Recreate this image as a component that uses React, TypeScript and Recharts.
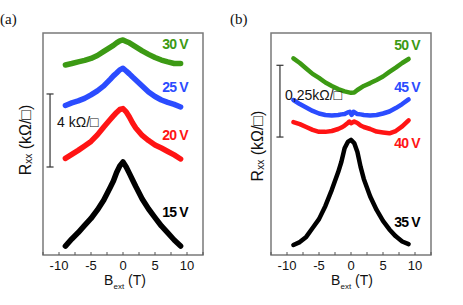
import React from "react";
import { LineChart, Line, XAxis, YAxis, ReferenceArea, ReferenceLine } from "recharts";

// ---------- data ----------
const fieldA = [-9, -8, -7, -6, -5, -4, -3, -2, -1.5, -1, -0.5, 0, 0.5, 1, 1.5, 2, 3, 4, 5, 6, 7, 8, 9];
const a15V = [0.49, 0.88, 1.23, 1.62, 2.0, 2.47, 3.01, 3.7, 4.05, 4.52, 4.88, 5.1, 4.82, 4.47, 4.11, 3.75, 3.07, 2.52, 2.05, 1.59, 1.21, 0.82, 0.49];
const a20V = [5.29, 5.51, 5.73, 5.97, 6.22, 6.58, 7.01, 7.42, 7.62, 7.81, 7.97, 8.02, 7.84, 7.56, 7.23, 6.96, 6.55, 6.27, 6.03, 5.86, 5.67, 5.48, 5.26];
const a25V = [8.19, 8.33, 8.44, 8.58, 8.77, 8.99, 9.26, 9.62, 9.81, 9.97, 10.14, 10.23, 10.08, 9.92, 9.75, 9.59, 9.26, 8.93, 8.68, 8.49, 8.36, 8.25, 8.11];
const a30V = [10.41, 10.49, 10.58, 10.66, 10.77, 10.93, 11.15, 11.37, 11.48, 11.62, 11.73, 11.78, 11.7, 11.62, 11.51, 11.4, 11.18, 10.99, 10.82, 10.68, 10.58, 10.49, 10.49];

const field35 = [-9, -8, -7, -6, -5, -4, -3, -2, -1.5, -1, -0.5, 0, 0.5, 1, 1.5, 2, 3, 4, 5, 6, 7, 8, 9];
const b35V = [0.035, 0.045, 0.063, 0.094, 0.125, 0.171, 0.227, 0.289, 0.325, 0.372, 0.394, 0.401, 0.39, 0.359, 0.307, 0.265, 0.204, 0.157, 0.119, 0.089, 0.065, 0.047, 0.038];
const field40 = [-9, -8, -7, -6, -5, -4, -3, -2, -1.5, -1, -0.5, -0.25, 0, 0.5, 1, 1.5, 2, 3, 4, 5, 6, 7, 8, 9];
const b40V = [0.463, 0.456, 0.446, 0.436, 0.429, 0.429, 0.432, 0.439, 0.444, 0.451, 0.46, 0.465, 0.459, 0.465, 0.46, 0.451, 0.446, 0.439, 0.43, 0.427, 0.424, 0.432, 0.448, 0.469];
const field45 = [-9, -8, -7, -6, -5, -4, -3, -2, -1.5, -1, -0.5, -0.2, 0.1, 0.4, 1, 1.5, 2, 3, 4, 5, 6, 7, 8, 9];
const b45V = [0.54, 0.526, 0.514, 0.502, 0.493, 0.488, 0.486, 0.488, 0.49, 0.491, 0.497, 0.499, 0.488, 0.499, 0.491, 0.49, 0.488, 0.486, 0.488, 0.493, 0.5, 0.512, 0.526, 0.542];
const field50 = [-9, -8, -7, -6, -5, -4, -3, -2, -1, 0, 0.5, 1, 2, 3, 4, 5, 6, 7, 8, 9];
const b50V = [0.685, 0.669, 0.65, 0.631, 0.617, 0.601, 0.589, 0.578, 0.57, 0.565, 0.566, 0.575, 0.589, 0.599, 0.61, 0.622, 0.638, 0.653, 0.669, 0.683];

const xTicks = [-12.5, -10, -7.5, -5, -2.5, 0, 2.5, 5, 7.5, 10, 12.5];
const labelsA = ["30 V", "25 V", "20 V", "15 V"];
const labelsB = ["50 V", "45 V", "40 V", "35 V"];
const scaleLabelA = "4 kΩ/□";
const scaleLabelB = "0,25kΩ/□";
const scaleA = 4; // kΩ/□
const scaleB = 0.25; // kΩ/□

const GREEN = "#3c9a14";
const BLUE = "#2b4cff";
const RED = "#ff1414";
const BLACK = "#000000";
const SANS = "'Liberation Sans', Arial, 'DejaVu Sans', sans-serif";

const toPts = (xs: number[], ys: number[]) => xs.map((x, i) => ({ x, y: ys[i] }));

const XTick = (props: any) => {
  const { x, y, payload } = props;
  const v = payload.value;
  const major = Math.abs(v % 5) < 1e-6;
  return (
    <g>
      <line x1={x} x2={x} y1={y} y2={y - 3} stroke="#555" strokeWidth={1} />
      {major && Math.abs(v) < 12 ? (
        <text x={x} y={y + 14.5} textAnchor="middle" fontFamily={SANS} fontSize={13} fill="#111">
          {v}
        </text>
      ) : null}
    </g>
  );
};

const lineProps = {
  type: "linear" as const,
  dataKey: "y",
  dot: false,
  isAnimationActive: false,
  strokeLinejoin: "round" as const,
  strokeLinecap: "round" as const,
};

function Panel({
  left,
  right,
  yMax,
  series,
  bar,
  barX,
  barY0,
}: {
  left: number;
  right: number;
  yMax: number;
  series: { data: { x: number; y: number }[]; color: string; w: number }[];
  bar: number;
  barX: number;
  barY0: number;
}) {
  const cap = 0.55;
  return (
    <LineChart width={463} height={305} margin={{ top: 33, right, bottom: 20, left }}>
      <XAxis
        type="number"
        dataKey="x"
        domain={[-12.5, 12.5]}
        ticks={xTicks}
        interval={0}
        tick={<XTick />}
        tickLine={false}
        axisLine={false}
        tickSize={0}
        tickMargin={0}
        height={30}
        allowDataOverflow
      />
      <YAxis type="number" domain={[0, yMax]} hide allowDataOverflow />
      <ReferenceArea x1={-12.5} x2={12.5} y1={0} y2={yMax} fill="none" stroke="#7a7a7a" strokeWidth={1.5} ifOverflow="visible" />
      <ReferenceLine segment={[{ x: barX, y: barY0 }, { x: barX, y: barY0 + bar }]} stroke="#333" strokeWidth={1.2} ifOverflow="visible" />
      <ReferenceLine segment={[{ x: barX - cap, y: barY0 }, { x: barX + cap, y: barY0 }]} stroke="#333" strokeWidth={1.2} ifOverflow="visible" />
      <ReferenceLine segment={[{ x: barX - cap, y: barY0 + bar }, { x: barX + cap, y: barY0 + bar }]} stroke="#333" strokeWidth={1.2} ifOverflow="visible" />
      {series.map((s, i) => (
        <Line key={i} {...lineProps} data={s.data} stroke={s.color} strokeWidth={s.w} />
      ))}
    </LineChart>
  );
}

export default function App() {
  const seriesA = [
    { data: toPts(fieldA, a15V), color: BLACK, w: 5.5 },
    { data: toPts(fieldA, a20V), color: RED, w: 5.5 },
    { data: toPts(fieldA, a25V), color: BLUE, w: 5.5 },
    { data: toPts(fieldA, a30V), color: GREEN, w: 5.5 },
  ];
  const seriesB = [
    { data: toPts(field35, b35V), color: BLACK, w: 4.5 },
    { data: toPts(field40, b40V), color: RED, w: 4.5 },
    { data: toPts(field45, b45V), color: BLUE, w: 4.5 },
    { data: toPts(field50, b50V), color: GREEN, w: 4.5 },
  ];
  const colors = [GREEN, BLUE, RED, BLACK];
  const labAY = [44, 87, 134.5, 212];
  const labBY = [45, 87, 143, 222];
  return (
    <div style={{ position: "absolute", left: 0, top: 0, width: 463, height: 305, background: "#fff" }}>
      <div style={{ position: "absolute", left: 0, top: 0 }}>
        <Panel left={43} right={260} yMax={12.16} series={seriesA} bar={scaleA} barX={-11.4} barY0={4.82} />
      </div>
      <div style={{ position: "absolute", left: 0, top: 0 }}>
        <Panel left={271} right={32} yMax={0.7735} series={seriesB} bar={scaleB} barX={-11.1} barY0={0.411} />
      </div>
      <svg width={463} height={305} style={{ position: "absolute", left: 0, top: 0, pointerEvents: "none" }}>
        <text x={0} y={24} fontFamily="'Liberation Serif', 'Times New Roman', serif" fontSize={15} fill="#111">(a)</text>
        <text x={230} y={24} fontFamily="'Liberation Serif', 'Times New Roman', serif" fontSize={15} fill="#111">(b)</text>
        {labelsA.map((t, i) => (
          <text key={t} x={175} y={labAY[i] + 5} textAnchor="middle" fontFamily={SANS} fontWeight="bold" fontSize={14} fill={colors[i]} letterSpacing={-0.8}>{t}</text>
        ))}
        {labelsB.map((t, i) => (
          <text key={t} x={407} y={labBY[i] + 5} textAnchor="middle" fontFamily={SANS} fontWeight="bold" fontSize={14} fill={colors[i]} letterSpacing={-0.8}>{t}</text>
        ))}
        <text x={57} y={127} fontFamily={SANS} fontSize={14} fill="#111">{scaleLabelA}</text>
        <text x={285} y={100} fontFamily={SANS} fontSize={14} fill="#111">{scaleLabelB}</text>
        {[{ cx: 125, cy: 285 }, { cx: 352, cy: 285 }].map((p, i) => (
          <text key={i} x={p.cx} y={p.cy} textAnchor="middle" fontFamily={SANS} fontSize={14} fill="#111">
            B<tspan fontSize={8} dy={4}>ext</tspan><tspan dy={-4}> (T)</tspan>
          </text>
        ))}
        {[{ cx: 25, cy: 140 }, { cx: 257, cy: 146 }].map((p, i) => (
          <text key={i} x={p.cx} y={p.cy} transform={`rotate(-90 ${p.cx} ${p.cy})`} textAnchor="middle" dominantBaseline="central" fontFamily={SANS} fontSize={16} fill="#111">
            R<tspan fontSize={10} dy={3}>xx</tspan><tspan dy={-3}> (kΩ/□)</tspan>
          </text>
        ))}
      </svg>
    </div>
  );
}
